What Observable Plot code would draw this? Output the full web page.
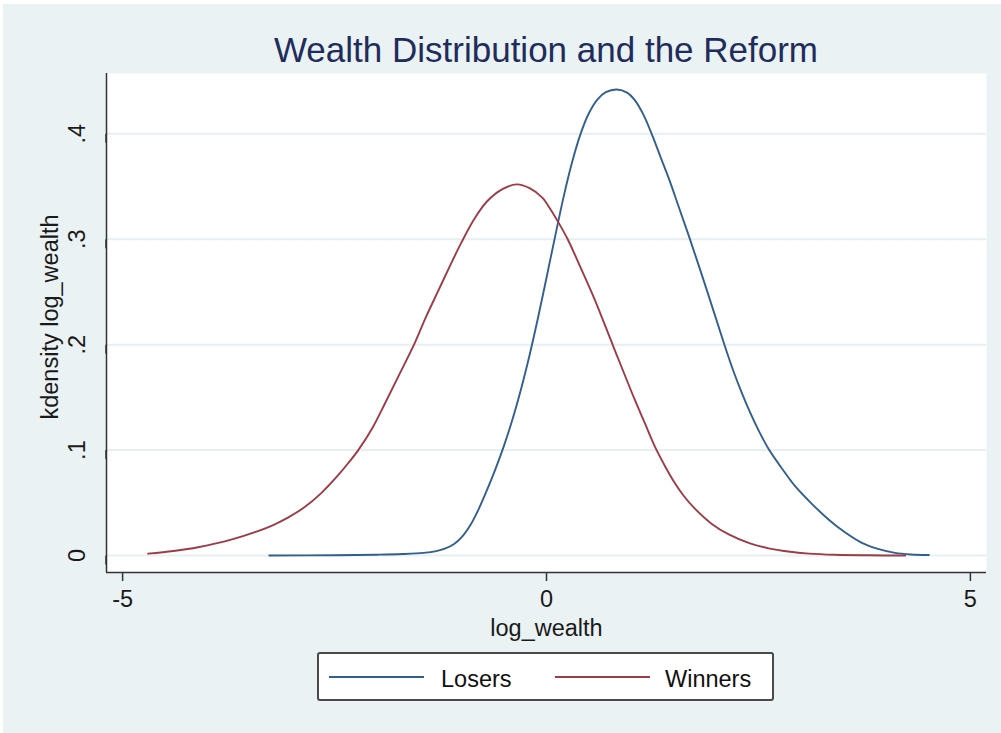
<!DOCTYPE html>
<html>
<head>
<meta charset="utf-8">
<script src="https://cdn.jsdelivr.net/npm/d3@7"></script>
<script src="https://cdn.jsdelivr.net/npm/@observablehq/plot@0.6"></script>
<style>
  html, body { margin: 0; padding: 0; background: #ffffff; width: 1001px; height: 733px; overflow: hidden; }
  #bg { position: absolute; left: 3px; top: 4px; width: 998px; height: 729px; background: #EAF2F3; }
  #title { position: absolute; left: 106px; top: 30px; width: 880px; height: 40px; line-height: 40px;
           text-align: center; font-family: "Liberation Sans", Arial, Helvetica, sans-serif; font-size: 35px; color: #1f2c5c; }
  #chart { position: absolute; left: 0; top: 66px; }
  #legend { position: absolute; left: 317px; top: 652px; width: 453px; height: 45px; border: 2px solid #4a4a4a;
            border-radius: 3px; background: #ffffff; font-family: "Liberation Sans", Arial, Helvetica, sans-serif; }
  .sw { position: absolute; height: 0; border-top: 2px solid; top: 22px; width: 95px; }
  .lt { position: absolute; top: 13px; font-size: 23.5px; line-height: 24px; color: #111; white-space: nowrap; }
</style>
</head>
<body>
<div id="bg"></div>
<div id="title">Wealth Distribution and the Reform</div>
<div id="chart"></div>
<div id="legend"></div>
<script>
const FONT = '"Liberation Sans", Arial, Helvetica, sans-serif';

// Axis settings
const xDomain = [-5.19, 5.19];
const yDomain = [-0.0161, 0.4572];
const xTicks = [-5, 0, 5];
const yTicks = [0, 0.1, 0.2, 0.3, 0.4];
const yTickLabels = ["0", ".1", ".2", ".3", ".4"];
const xTitle = "log_wealth";
const yTitle = "kdensity log_wealth";

// Series
const seriesNames = ["Losers", "Winners"];
const seriesColors = ["#325f8e", "#9d3b48"];

const losersX = [-3.27, -2.5, -2.0, -1.7, -1.45, -1.3, -1.2, -1.09, -1.0, -0.89,
  -0.8, -0.7, -0.6, -0.5, -0.4, -0.3, -0.2, -0.1, 0.0, 0.1,
  0.2, 0.3, 0.4, 0.5, 0.6, 0.7, 0.83, 0.95, 1.05, 1.15,
  1.25, 1.35, 1.45, 1.55, 1.68, 1.89, 2.09, 2.2, 2.3, 2.4,
  2.5, 2.62, 2.8, 2.93, 3.13, 3.33, 3.52, 3.72, 3.92, 4.11,
  4.3, 4.51];
const losersY = [0.0000, 0.0003, 0.0008, 0.0014, 0.0025, 0.0042, 0.0065, 0.011, 0.0175, 0.030,
  0.044, 0.0625, 0.0825, 0.1045, 0.1295, 0.158, 0.190, 0.2255, 0.2635, 0.302,
  0.3395, 0.3725, 0.3995, 0.4195, 0.4325, 0.4395, 0.442, 0.439, 0.431, 0.417,
  0.398, 0.377, 0.356, 0.333, 0.303, 0.252, 0.202, 0.176, 0.155, 0.136,
  0.119, 0.101, 0.080, 0.066, 0.049, 0.034, 0.022, 0.012, 0.006, 0.0025,
  0.001, 0.0005];

const winnersX = [-4.70, -4.40, -4.11, -3.72, -3.25, -3.05, -2.86, -2.66, -2.46, -2.34,
  -2.22, -2.05, -1.91, -1.75, -1.56, -1.42, -1.28, -1.14, -1.00, -0.85,
  -0.70, -0.52, -0.35, -0.20, -0.05, 0.05, 0.14, 0.25, 0.40, 0.57,
  0.79, 1.04, 1.16, 1.28, 1.40, 1.50, 1.62, 1.75, 1.95, 2.15,
  2.40, 2.62, 2.85, 3.10, 3.40, 3.80, 4.23];
const winnersY = [0.0018, 0.0043, 0.0078, 0.015, 0.028, 0.036, 0.0455, 0.059, 0.076, 0.0875,
  0.100, 0.1215, 0.1435, 0.1695, 0.2005, 0.2265, 0.2505, 0.2745, 0.2975, 0.3195,
  0.336, 0.3475, 0.352, 0.3485, 0.3395, 0.328, 0.316, 0.300, 0.2735, 0.2425,
  0.198, 0.148, 0.1255, 0.103, 0.0845, 0.0705, 0.0565, 0.0445, 0.030, 0.020,
  0.0115, 0.0068, 0.0038, 0.0018, 0.0007, 0.0002, 0.000];

const rows = [
  ...losersX.map((x, i) => ({series: seriesNames[0], x, y: losersY[i]})),
  ...winnersX.map((x, i) => ({series: seriesNames[1], x, y: winnersY[i]}))
];

const chart = Plot.plot({
  width: 1001,
  height: 586,
  marginLeft: 106,
  marginRight: 15,
  marginTop: 7,
  marginBottom: 80,
  style: {background: "transparent", fontFamily: FONT, fontSize: "23.5px", color: "#1a1a1a", overflow: "visible"},
  x: {domain: xDomain},
  y: {domain: yDomain},
  color: {domain: seriesNames, range: seriesColors},
  marks: [
    Plot.frame({fill: "white", stroke: "none"}),
    Plot.gridY(yTicks, {stroke: "#E6EFF1", strokeOpacity: 1, strokeWidth: 2}),
    Plot.lineY(rows, {x: "x", y: "y", z: "series", stroke: "series", strokeWidth: 1.9, curve: "catmull-rom"}),
    Plot.ruleX([xDomain[0]], {stroke: "#333", strokeWidth: 1.5}),
    Plot.ruleY([yDomain[0]], {stroke: "#333", strokeWidth: 1.5}),
    Plot.axisX(xTicks, {tickSize: 9, tickPadding: 9, fontSize: 23.5, label: null, stroke: "#333", strokeWidth: 1.5, tickFormat: d => String(d)}),
    Plot.axisY(yTicks, {tickSize: 9, tickPadding: 20, rotate: -90, textAnchor: "middle", fontSize: 23.5, label: null,
      stroke: "#333", strokeWidth: 1.5, tickFormat: d => yTickLabels[yTicks.indexOf(d)]}),
    Plot.text([xTitle], {text: d => d, frameAnchor: "bottom", dy: 46.5, lineAnchor: "top", textAnchor: "middle", fontSize: 23.5}),
    Plot.text([yTitle], {text: d => d, frameAnchor: "left", dx: -56, dy: -6, rotate: -90, lineAnchor: "middle", textAnchor: "middle", fontSize: 23.5})
  ]
});
document.getElementById("chart").appendChild(chart);

// Legend
const legend = document.getElementById("legend");
const swLeft = [10, 236];
const txLeft = [122, 346];
seriesNames.forEach((name, i) => {
  const sw = document.createElement("div");
  sw.className = "sw";
  sw.style.left = swLeft[i] + "px";
  sw.style.borderTopColor = seriesColors[i];
  legend.appendChild(sw);
  const t = document.createElement("div");
  t.className = "lt";
  t.style.left = txLeft[i] + "px";
  t.textContent = name;
  legend.appendChild(t);
});
</script>
</body>
</html>
